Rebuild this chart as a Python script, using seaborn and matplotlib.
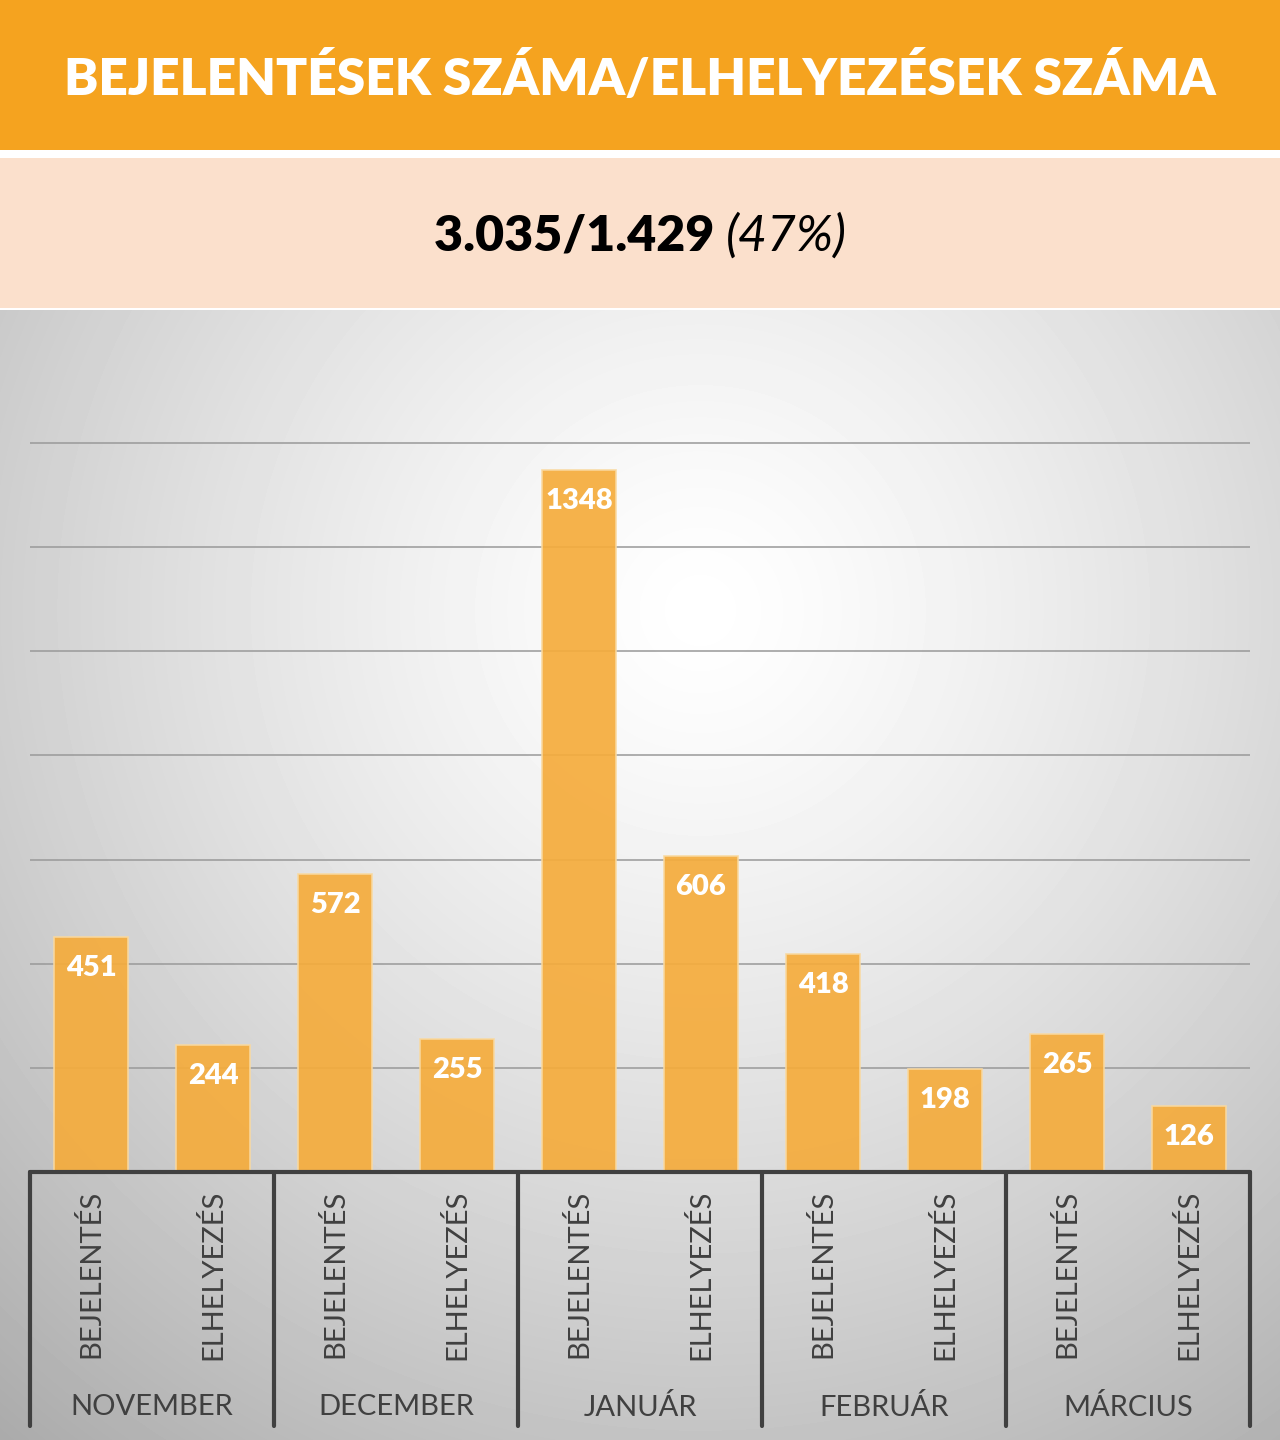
import numpy as np
import pandas as pd
import matplotlib.pyplot as plt
import matplotlib.transforms as mtransforms
from matplotlib.patches import Rectangle
import seaborn as sns

MONTHS = ["NOVEMBER", "DECEMBER", "JANUÁR", "FEBRUÁR", "MÁRCIUS"]
KINDS = ["BEJELENTÉS", "ELHELYEZÉS"]
BEJELENTES = [451, 572, 1348, 418, 265]
ELHELYEZES = [244, 255, 606, 198, 126]
TITLE = "BEJELENTÉSEK SZÁMA/ELHELYEZÉSEK SZÁMA"
TOTALS = "3.035/1.429"
RATIO = "(47%)"
GRID_TICKS = [200, 400, 600, 800, 1000, 1200, 1400]

ORANGE = "#F5A31F"
PEACH = "#FBE0CC"
BAR = "#F5AC3C"
DARK = "#404040"

W, H = 1280, 1440


def fy(px):
    # pixel row from the top -> figure fraction
    return 1 - px / H


sns.set_theme(style="white")
plt.rcParams["font.family"] = ["Lato", "DejaVu Sans"]

rows = []
for m, b, e in zip(MONTHS, BEJELENTES, ELHELYEZES):
    rows.append({"month": m, "kind": KINDS[0], "value": b, "slot": f"{m}|{KINDS[0]}"})
    rows.append({"month": m, "kind": KINDS[1], "value": e, "slot": f"{m}|{KINDS[1]}"})
df = pd.DataFrame(rows)

fig = plt.figure(figsize=(W / 100, H / 100), dpi=100)
fig.patch.set_facecolor("white")

# header bands
fig.patches.append(Rectangle((0, fy(150)), 1, 150 / H, transform=fig.transFigure,
                             facecolor=ORANGE, edgecolor="none", zorder=0))
fig.patches.append(Rectangle((0, fy(308)), 1, 150 / H, transform=fig.transFigure,
                             facecolor=PEACH, edgecolor="none", zorder=0))
fig.text(0.5, fy(78), TITLE, ha="center", va="center", color="white",
         fontsize=37, fontweight="heavy")

# subtitle: bold totals + italic ratio, centred as one line
t_bold = fig.text(0, fy(236), TOTALS + " ", ha="left", va="center", color="black",
                  fontsize=36, fontweight="heavy")
t_ital = fig.text(0, fy(236), RATIO, ha="left", va="center", color="black",
                  fontsize=36, fontstyle="italic")
renderer = fig.canvas.get_renderer()
wb = t_bold.get_window_extent(renderer).width
wi = t_ital.get_window_extent(renderer).width
x0 = (W - wb - wi) / 2
t_bold.set_x(x0 / W)
t_ital.set_x((x0 + wb) / W)

# radial grey background of the chart area
bg = fig.add_axes([0, 0, 1, fy(310)])
yy, xx = np.mgrid[0:1130, 0:1280]
r = np.hypot((xx - 700) / 900, (yy - 300) / 900)
shade = np.clip(1 - 0.26 * r ** 1.3, 0, 1)
bg.imshow(shade, cmap="gray", vmin=0, vmax=1, aspect="auto", interpolation="bilinear")
bg.set_axis_off()

# main bar axes
ax = fig.add_axes([30 / W, fy(1172), 1220 / W, (1172 - 310) / H])
ax.patch.set_alpha(0)
for v in GRID_TICKS:
    ax.axhline(v, color="#9a9a9a", lw=1.4, alpha=0.8, zorder=0)

sns.barplot(data=df, x="slot", y="value", color=BAR, width=0.6, saturation=1,
            alpha=0.92, edgecolor="#F9D9A0", linewidth=1.2, ax=ax, zorder=2)
ax.set_xlim(-0.5, len(df) - 0.5)
ax.set_ylim(0, (1172 - 310) / 0.5207)
ax.set_xticks([])
ax.set_yticks([])
ax.set_xlabel("")
ax.set_ylabel("")
for s in ax.spines.values():
    s.set_visible(False)

for i, v in enumerate(df["value"]):
    ax.annotate(str(v), (i, v), xytext=(0, -31), textcoords="offset pixels",
                ha="center", va="center", color="white", fontsize=21,
                fontweight="heavy", zorder=3)

# category axis drawn below the plot
trans = mtransforms.blended_transform_factory(ax.transData, fig.transFigure)
ax.plot([-0.5, len(df) - 0.5], [fy(1172), fy(1172)], transform=trans, color=DARK,
        lw=3, clip_on=False, zorder=4)
for k in range(len(MONTHS) + 1):
    x = 2 * k - 0.5
    ax.plot([x, x], [fy(1172), fy(1426)], transform=trans, color=DARK, lw=3,
            clip_on=False, zorder=4)
for i, kind in enumerate(df["kind"]):
    ax.text(i, fy(1190), kind, transform=trans, rotation=90, ha="center", va="top",
            color=DARK, fontsize=21)
for k, m in enumerate(MONTHS):
    ax.text(2 * k + 0.5, fy(1407), m, transform=trans, ha="center", va="center",
            color=DARK, fontsize=21)

fig.savefig("out.png", dpi=100)
